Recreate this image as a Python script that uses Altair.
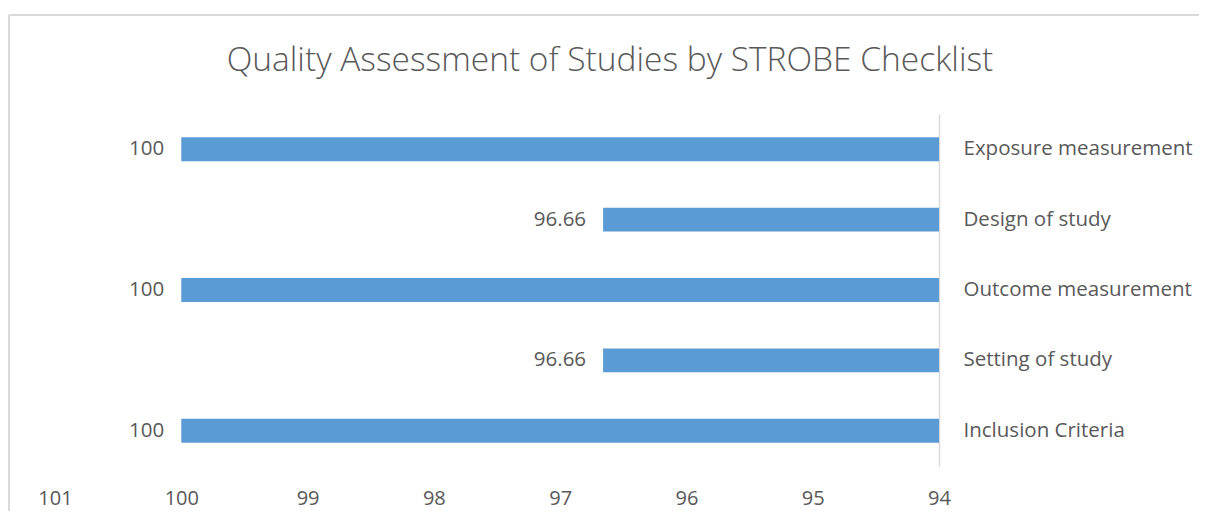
import altair as alt
import pandas as pd

title_text = "Quality Assessment of Studies by STROBE Checklist"
categories = ["Exposure measurement", "Design of study", "Outcome measurement",
              "Setting of study", "Inclusion Criteria"]
values = [100, 96.66, 100, 96.66, 100]
value_labels = ["100", "96.66", "100", "96.66", "100"]
x_ticks = [101, 100, 99, 98, 97, 96, 95, 94]
x_min, x_max = 94, 101

df = pd.DataFrame({"category": categories, "value": values, "label": value_labels})

FONT = "Open Sans"
TXT = "#595959"

y_enc = alt.Y("category:N", sort=categories,
              scale=alt.Scale(paddingInner=0.66, paddingOuter=0.33),
              axis=alt.Axis(orient="right", title=None, ticks=False, domain=True,
                            domainColor="#D9D9D9", domainWidth=1.5,
                            labelPadding=24, labelFont=FONT, labelFontSize=20.5,
                            labelColor=TXT, labelAlign="left", labelLimit=0))
x_scale = alt.Scale(domain=[x_min, x_max], reverse=True, nice=False, zero=False)
x_enc = alt.X("value:Q", scale=x_scale,
              axis=alt.Axis(values=x_ticks, format="d", title=None, grid=False,
                            domain=False, ticks=False, labelPadding=22,
                            labelFont=FONT, labelFontSize=20, labelColor=TXT,
                            labelFlush=False))

base = alt.Chart(df)
bars = base.mark_bar(color="#5B9BD5").encode(
    y=y_enc, x=x_enc, x2=alt.datum(x_min)
)
texts = base.mark_text(align="right", baseline="middle", dx=-17,
                       font=FONT, fontSize=20.5, color=TXT).encode(
    y=alt.Y("category:N", sort=categories), x=alt.X("value:Q", scale=x_scale),
    text="label:N"
)

frame = pd.DataFrame({"t": [title_text]})
top_border = alt.Chart(frame).mark_rule(color="#D9D9D9", strokeWidth=2).encode(
    x=alt.value(-46), x2=alt.value(1144), y=alt.value(-99)
)
left_border = alt.Chart(frame).mark_rule(color="#D9D9D9", strokeWidth=2).encode(
    x=alt.value(-46), y=alt.value(-99), y2=alt.value(397)
)
title = alt.Chart(frame).mark_text(font=FONT, fontSize=33.5, fontWeight=300,
                                   color=TXT, align="center", baseline="middle").encode(
    x=alt.value(555), y=alt.value(-53), text="t:N"
)

chart = alt.layer(top_border, left_border, title, bars, texts).properties(
    width=884, height=352,
    autosize=alt.AutoSizeParams(type="none"),
    padding={"left": 47, "top": 106, "right": 260, "bottom": 45},
).configure_view(stroke=None)

chart.save("out.html", embed_options={"renderer": "svg", "actions": False})
